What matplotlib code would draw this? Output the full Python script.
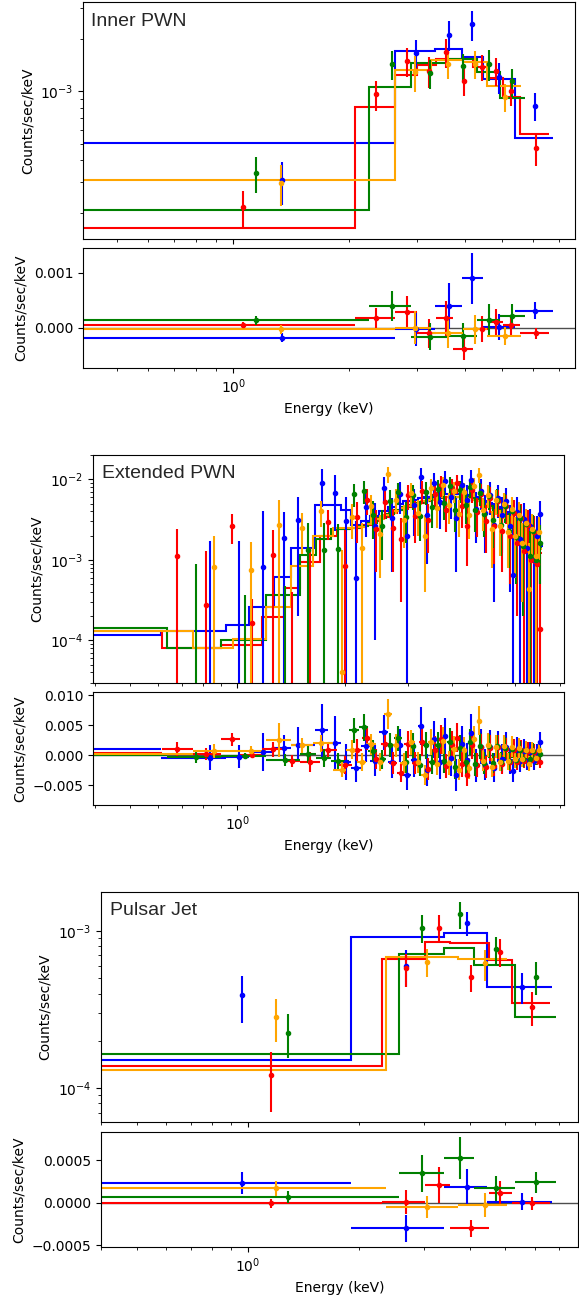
import numpy as np
import matplotlib
matplotlib.use('Agg')
import matplotlib.pyplot as plt

colors = ['blue', 'red', 'green', 'orange']

# ---------------- Inner PWN ----------------
inner_edges = {
    'blue':   [0.3, 2.63, 3.34, 3.92, 4.44, 5.39, 6.78],
    'red':    [0.3, 2.07, 2.63, 3.0, 3.37, 3.73, 4.2, 4.6, 5.02, 5.56, 6.6],
    'green':  [0.3, 2.25, 2.9, 3.58, 4.3, 4.93, 5.73],
    'orange': [0.3, 2.63, 3.27, 3.96, 4.55, 5.58],
}
inner_model = {
    'blue':   [5.04e-4, 1.70e-3, 1.76e-3, 1.58e-3, 1.17e-3, 5.41e-4],
    'red':    [1.64e-4, 8.12e-4, 1.24e-3, 1.41e-3, 1.54e-3, 1.53e-3, 1.38e-3, 1.2e-3, 9.3e-4, 5.7e-4],
    'green':  [2.06e-4, 1.06e-3, 1.46e-3, 1.54e-3, 1.3e-3, 9.2e-4],
    'orange': [3.07e-4, 1.32e-3, 1.51e-3, 1.48e-3, 1.07e-3],
}
inner_x = {
    'blue':   [1.34, 2.99, 3.64, 4.17, 4.91, 6.07],
    'red':    [1.057, 2.35, 2.82, 3.23, 3.57, 3.98, 4.43, 4.8, 5.28, 6.11],
    'green':  [1.147, 2.58, 3.25, 3.96, 4.61, 5.31],
    'orange': [1.33, 2.96, 3.62, 4.24, 5.07],
}
inner_y = {
    'blue':   [3.07e-4, 1.67e-3, 2.12e-3, 2.43e-3, 1.21e-3, 8.27e-4],
    'red':    [2.16e-4, 9.6e-4, 1.49e-3, 1.31e-3, 1.68e-3, 1.14e-3, 1.38e-3, 1.31e-3, 1.0e-3, 4.72e-4],
    'green':  [3.39e-4, 1.43e-3, 1.27e-3, 1.39e-3, 1.44e-3, 1.14e-3],
    'orange': [2.97e-4, 1.29e-3, 1.44e-3, 1.44e-3, 9.28e-4],
}
inner_err = {
    'blue':   [8.5e-5, 3.1e-4, 4.2e-4, 4.7e-4, 2.4e-4, 1.5e-4],
    'red':    [5.2e-5, 1.9e-4, 2.8e-4, 2.6e-4, 3.2e-4, 2.0e-4, 2.4e-4, 2.4e-4, 1.75e-4, 1.0e-4],
    'green':  [8e-5, 2.7e-4, 2.4e-4, 2.4e-4, 2.9e-4, 2.1e-4],
    'orange': [8e-5, 3.0e-4, 2.6e-4, 2.6e-4, 1.7e-4],
}
inner_res = {
    'blue':   [-1.8e-4, -2e-5, 4.0e-4, 8.96e-4, 2e-5, 3.1e-4],
    'red':    [4.7e-5, 1.7e-4, 2.9e-4, -1.0e-4, 1.7e-4, -3.9e-4, -2.5e-5, 1.0e-4, 5e-5, -1.0e-4],
    'green':  [1.4e-4, 4.0e-4, -1.6e-4, -1.5e-4, 1.4e-4, 2.2e-4],
    'orange': [-3e-5, 0.0, -1e-4, -2.5e-5, -1.5e-4],
}

# ---------------- Extended PWN ----------------
# low energy part (wide bins, < ~2 keV)
ext_edges_lo = {
    'blue':   [0.3, 0.61, 0.93, 1.08, 1.27, 1.41, 1.65, 1.80, 1.95],
    'red':    [0.3, 0.613, 0.75, 0.898, 1.02, 1.17, 1.35, 1.50, 1.70, 1.90],
    'green':  [0.3, 0.635, 0.9, 1.2, 1.5, 1.66, 1.83],
    'orange': [0.3, 0.75, 0.97, 1.2, 1.41, 1.63, 1.85],
}
ext_model_lo = {
    'blue':   [1.17e-4, 1.29e-4, 1.56e-4, 2.6e-4, 6.1e-4, 1.4e-3, 4.8e-3, 4.8e-3, 4.2e-3],
    'red':    [1.3e-4, 8.0e-5, 8.0e-5, 8.8e-5, 8.8e-5, 1.93e-4, 4.5e-4, 9.5e-4, 2.0e-3, 2.4e-3],
    'green':  [1.42e-4, 8.0e-5, 1.0e-4, 3.7e-4, 1.15e-3, 1.8e-3, 2.4e-3],
    'orange': [1.3e-4, 8.0e-5, 1.03e-4, 2.6e-4, 8.3e-4, 1.95e-3, 2.47e-3],
}
ext_x_lo = {
    'blue':   [0.37, 0.84, 1.01, 1.18, 1.35, 1.48, 1.73, 1.88, 2.02],
    'red':    [0.36, 0.679, 0.817, 0.965, 1.10, 1.26, 1.42, 1.60, 1.80, 2.0],
    'green':  [0.37, 0.765, 1.05, 1.36, 1.58, 1.75, 1.92],
    'orange': [0.37, 0.862, 1.09, 1.31, 1.52, 1.72, 1.97],
}
ext_y_lo = {
    'blue':   [1.2e-3, -3e-4, -2e-4, 8.1e-4, 1.86e-3, 3.1e-3, 8.9e-3, 6.8e-3, 3.0e-3],
    'red':    [1.0e-3, 1.1e-3, 2.77e-4, 2.64e-3, 1.64e-4, 1.15e-3, -6e-4, -2e-4, 2.98e-3, 8.3e-4],
    'green':  [1.1e-3, -2e-4, -1e-4, -5e-4, 1.33e-3, 1.33e-3, 1.36e-3],
    'orange': [1.1e-3, 8.1e-4, 7.5e-4, 2.72e-3, 2.47e-3, 3.98e-3, 4.1e-5],
}
ext_err_lo = {
    'blue':   [1.2e-3, 2.0e-3, 1.9e-3, 3.2e-3, 2.1e-3, 2.9e-3, 4.4e-3, 4.5e-3, 3.0e-3],
    'red':    [1.0e-3, 1.3e-3, 1.0e-3, 1.05e-3, 1.6e-4, 1.2e-3, 1.0e-3, 1.6e-3, 1.2e-3, 1.5e-3],
    'green':  [1.1e-3, 1.1e-3, 4.7e-4, 9.7e-4, 1.5e-3, 1.5e-3, 1.4e-3],
    'orange': [1.1e-3, 1.15e-3, 9e-4, 2.8e-3, 1.3e-3, 1.4e-3, 1.3e-3],
}
ext_res_lo = {
    'blue':   [9.4e-4, -4e-4, -3e-4, 5e-4, 1.2e-3, 1.7e-3, 4.1e-3, 2.0e-3, -1.2e-3],
    'red':    [3e-4, 9.4e-4, 2e-4, 2.6e-3, 8e-5, 9.6e-4, -1.05e-3, -1.15e-3, 9e-4, -1.6e-3],
    'green':  [1e-4, -2.8e-4, -2e-4, -8e-4, 2e-4, -5e-4, -1.0e-3],
    'orange': [2.5e-4, 6.7e-4, 6.5e-4, 2.5e-3, 1.6e-3, 2.0e-3, -2.4e-3],
}
# high energy part (narrow bins, ~2-7 keV)
ext_edges_hi = {
    'blue':   [2.08, 2.22, 2.36, 2.5, 2.64, 2.78, 2.92, 3.06, 3.2, 3.34,
               3.48, 3.62, 3.76, 3.9, 4.04, 4.18, 4.32, 4.46, 4.6, 4.74,
               4.88, 5.02, 5.16, 5.3, 5.44, 5.58, 5.72, 5.86, 6.0, 6.14,
               6.28, 6.42, 6.56, 6.7, 6.84, 6.98, 7.2],
    'red':    [2.1, 2.24, 2.38, 2.52, 2.66, 2.8, 2.94, 3.08, 3.22, 3.36,
               3.5, 3.64, 3.78, 3.92, 4.06, 4.2, 4.34, 4.48, 4.62, 4.76,
               4.9, 5.04, 5.18, 5.32, 5.46, 5.6, 5.74, 5.88, 6.02, 6.16,
               6.3, 6.44, 6.58, 6.72, 6.86, 7.0, 7.15],
    'green':  [2.05, 2.19, 2.33, 2.47, 2.61, 2.75, 2.89, 3.03, 3.17, 3.31,
               3.45, 3.59, 3.73, 3.87, 4.01, 4.15, 4.29, 4.43, 4.57, 4.71,
               4.85, 4.99, 5.13, 5.27, 5.41, 5.55, 5.69, 5.83, 5.97, 6.11,
               6.25, 6.39, 6.53, 6.67, 6.81, 6.95, 7.15],
    'orange': [2.02, 2.16, 2.3, 2.44, 2.58, 2.72, 2.86, 3.0, 3.14, 3.28,
               3.42, 3.56, 3.7, 3.84, 3.98, 4.12, 4.26, 4.4, 4.54, 4.68,
               4.82, 4.96, 5.1, 5.24, 5.38, 5.52, 5.66, 5.8, 5.94, 6.08,
               6.22, 6.36, 6.5, 6.64, 6.78, 6.92, 7.13],
}
ext_x_hi = {
    'blue':   [2.15, 2.29, 2.43, 2.57, 2.71, 2.85, 2.99, 3.13, 3.27, 3.41,
               3.55, 3.69, 3.83, 3.97, 4.11, 4.25, 4.39, 4.53, 4.67, 4.81,
               4.95, 5.09, 5.23, 5.37, 5.51, 5.65, 5.79, 5.93, 6.07, 6.21,
               6.35, 6.49, 6.63, 6.77, 6.91, 7.06],
    'red':    [2.17, 2.31, 2.45, 2.59, 2.73, 2.87, 3.01, 3.15, 3.29, 3.43,
               3.57, 3.71, 3.85, 3.99, 4.13, 4.27, 4.41, 4.55, 4.69, 4.83,
               4.97, 5.11, 5.25, 5.39, 5.53, 5.67, 5.81, 5.95, 6.09, 6.23,
               6.37, 6.51, 6.65, 6.79, 6.93, 7.07],
    'green':  [2.12, 2.26, 2.4, 2.54, 2.68, 2.82, 2.96, 3.1, 3.24, 3.38,
               3.52, 3.66, 3.8, 3.94, 4.08, 4.22, 4.36, 4.5, 4.64, 4.78,
               4.92, 5.06, 5.2, 5.34, 5.48, 5.62, 5.76, 5.9, 6.04, 6.18,
               6.32, 6.46, 6.6, 6.74, 6.88, 7.04],
    'orange': [2.09, 2.23, 2.37, 2.51, 2.65, 2.79, 2.93, 3.07, 3.21, 3.35,
               3.49, 3.63, 3.77, 3.91, 4.05, 4.19, 4.33, 4.47, 4.61, 4.75,
               4.89, 5.03, 5.17, 5.31, 5.45, 5.59, 5.73, 5.87, 6.01, 6.15,
               6.29, 6.43, 6.57, 6.71, 6.85, 7.0],
}
ext_model_hi = {
    'blue':   [2.7e-3, 3.0e-3, 3.5e-3, 4.0e-3, 4.5e-3, 4.9e-3, 5.3e-3, 5.6e-3, 5.9e-3, 6.1e-3,
               6.3e-3, 6.4e-3, 6.5e-3, 6.6e-3, 6.6e-3, 6.5e-3, 6.4e-3, 6.2e-3, 6.0e-3, 5.7e-3,
               5.4e-3, 5.1e-3, 4.8e-3, 4.5e-3, 4.2e-3, 3.9e-3, 3.6e-3, 3.3e-3, 3.0e-3, 2.8e-3,
               2.5e-3, 2.3e-3, 2.1e-3, 1.9e-3, 1.7e-3, 1.5e-3],
    'red':    [2.5e-3, 2.7e-3, 3.0e-3, 3.4e-3, 3.8e-3, 4.2e-3, 4.5e-3, 4.8e-3, 5.1e-3, 5.4e-3,
               5.7e-3, 5.9e-3, 6.0e-3, 6.1e-3, 6.1e-3, 6.1e-3, 6.0e-3, 5.8e-3, 5.6e-3, 5.3e-3,
               5.0e-3, 4.7e-3, 4.4e-3, 4.1e-3, 3.8e-3, 3.5e-3, 3.2e-3, 2.9e-3, 2.7e-3, 2.4e-3,
               2.2e-3, 2.0e-3, 1.8e-3, 1.6e-3, 1.4e-3, 1.2e-3],
    'green':  [2.5e-3, 2.6e-3, 2.9e-3, 3.3e-3, 3.7e-3, 4.1e-3, 4.5e-3, 4.8e-3, 5.1e-3, 5.4e-3,
               5.7e-3, 5.9e-3, 6.0e-3, 6.1e-3, 6.1e-3, 6.1e-3, 6.0e-3, 5.8e-3, 5.6e-3, 5.3e-3,
               5.0e-3, 4.7e-3, 4.4e-3, 4.1e-3, 3.8e-3, 3.5e-3, 3.2e-3, 2.9e-3, 2.7e-3, 2.4e-3,
               2.2e-3, 2.0e-3, 1.8e-3, 1.6e-3, 1.5e-3, 1.4e-3],
    'orange': [2.5e-3, 2.55e-3, 2.8e-3, 3.2e-3, 3.6e-3, 4.0e-3, 4.4e-3, 4.7e-3, 5.0e-3, 5.3e-3,
               5.6e-3, 5.8e-3, 6.0e-3, 6.1e-3, 6.1e-3, 6.1e-3, 6.0e-3, 5.8e-3, 5.6e-3, 5.3e-3,
               5.0e-3, 4.7e-3, 4.4e-3, 4.1e-3, 3.8e-3, 3.5e-3, 3.2e-3, 2.9e-3, 2.7e-3, 2.4e-3,
               2.2e-3, 2.0e-3, 1.8e-3, 1.6e-3, 1.5e-3, 1.35e-3],
}
ext_y_hi = {
    'blue':   [6.0e-4, 4.5e-3, 2.6e-3, 7.8e-3, 3.3e-3, 6.5e-3, 2.0e-3, 4.8e-3, 1.07e-2, 3.6e-3,
               8.9e-3, 5.2e-3, 9.6e-3, 6.1e-3, 3.3e-3, 8.4e-3, 5.6e-3, 9.9e-3, 4.3e-3, 7.1e-3,
               3.8e-3, 6.4e-3, 2.7e-3, 5.9e-3, 3.6e-3, 5.3e-3, 2.6e-3, 6.5e-4, 3.9e-3, 1.8e-3,
               3.2e-3, 1.4e-3, 2.6e-3, 1.0e-3, 2.0e-3, 3.7e-3],
    'red':    [3.4e-3, 5.6e-3, 2.4e-3, 5.2e-3, 2.5e-3, 1.8e-3, 6.3e-3, 3.5e-3, 7.2e-3, 3.1e-3,
               6.6e-3, 8.5e-3, 4.2e-3, 7.8e-3, 9.0e-3, 4.6e-3, 2.64e-3, 7.4e-3, 3.9e-3, 6.6e-3,
               3.0e-3, 5.9e-3, 2.6e-3, 5.4e-3, 2.3e-3, 4.6e-3, 2.0e-3, 3.8e-3, 1.6e-3, 3.3e-3,
               1.3e-3, 2.7e-3, 1.0e-3, 2.2e-3, 9.0e-4, 1.4e-4],
    'green':  [6.6e-3, 7.2e-3, 3.6e-3, 2.6e-3, 5.4e-3, 6.9e-3, 3.4e-3, 6.3e-3, 3.5e-3, 7.0e-3,
               4.5e-3, 7.6e-3, 5.1e-3, 8.3e-3, 4.2e-3, 7.3e-3, 4.8e-3, 8.0e-3, 4.1e-3, 6.8e-3,
               3.7e-3, 6.2e-3, 3.1e-3, 5.6e-3, 2.7e-3, 4.7e-3, 2.3e-3, 4.0e-3, 1.9e-3, 3.3e-3,
               1.5e-3, 2.8e-3, 1.1e-3, 2.3e-3, 1.0e-3, 1.6e-3],
    'orange': [3.4e-3, 1.4e-3, 4.6e-3, 2.1e-3, 1.15e-2, 5.6e-3, 3.1e-3, 6.8e-3, 3.8e-3, 2.0e-3,
               7.8e-3, 4.4e-3, 8.4e-3, 4.8e-3, 7.2e-3, 3.7e-3, 6.9e-3, 3.6e-3, 8.2e-3, 1.13e-2,
               4.1e-3, 6.4e-3, 2.4e-3, 5.5e-3, 2.6e-3, 5.0e-3, 2.2e-3, 4.3e-3, 2.0e-3, 3.6e-3,
               1.6e-3, 2.9e-3, 4.3e-4, 2.4e-3, 1.1e-3, 2.2e-3],
}
ext_err_hi = {
    'blue':   [2.4e-3, 2.6e-3, 2.5e-3, 2.9e-3, 2.6e-3, 2.8e-3, 2.5e-3, 2.8e-3, 3.2e-3, 2.7e-3,
               3.0e-3, 2.8e-3, 3.1e-3, 2.9e-3, 2.6e-3, 3.0e-3, 2.8e-3, 3.1e-3, 2.7e-3, 2.9e-3,
               2.6e-3, 2.8e-3, 2.4e-3, 2.6e-3, 2.4e-3, 2.4e-3, 2.2e-3, 1.9e-3, 2.1e-3, 1.8e-3,
               1.9e-3, 1.6e-3, 1.7e-3, 1.5e-3, 1.5e-3, 1.6e-3],
    'red':    [1.8e-3, 2.0e-3, 1.7e-3, 2.0e-3, 1.8e-3, 1.5e-3, 2.2e-3, 1.9e-3, 2.3e-3, 1.9e-3,
               2.2e-3, 2.4e-3, 2.0e-3, 2.3e-3, 2.4e-3, 2.1e-3, 1.8e-3, 2.3e-3, 2.0e-3, 2.2e-3,
               1.8e-3, 2.1e-3, 1.7e-3, 2.0e-3, 1.6e-3, 1.8e-3, 1.5e-3, 1.7e-3, 1.4e-3, 1.6e-3,
               1.3e-3, 1.5e-3, 1.2e-3, 1.3e-3, 1.1e-3, 1.0e-3],
    'green':  [2.1e-3, 2.2e-3, 1.8e-3, 1.6e-3, 2.0e-3, 2.1e-3, 1.8e-3, 2.1e-3, 1.8e-3, 2.2e-3,
               2.0e-3, 2.2e-3, 2.0e-3, 2.3e-3, 2.0e-3, 2.2e-3, 2.0e-3, 2.2e-3, 1.9e-3, 2.1e-3,
               1.8e-3, 2.0e-3, 1.7e-3, 1.9e-3, 1.6e-3, 1.8e-3, 1.5e-3, 1.6e-3, 1.4e-3, 1.5e-3,
               1.3e-3, 1.4e-3, 1.2e-3, 1.3e-3, 1.1e-3, 1.1e-3],
    'orange': [1.6e-3, 1.5e-3, 1.7e-3, 1.5e-3, 2.5e-3, 1.9e-3, 1.7e-3, 2.1e-3, 1.8e-3, 1.6e-3,
               2.2e-3, 1.9e-3, 2.2e-3, 2.0e-3, 2.1e-3, 1.8e-3, 2.1e-3, 1.8e-3, 2.2e-3, 2.4e-3,
               1.8e-3, 2.0e-3, 1.6e-3, 1.9e-3, 1.5e-3, 1.8e-3, 1.4e-3, 1.7e-3, 1.4e-3, 1.6e-3,
               1.3e-3, 1.4e-3, 1.2e-3, 1.3e-3, 1.1e-3, 1.2e-3],
}
ext_res_hi = {
    'blue':   [-2.1e-3, 1.5e-3, -9e-4, 3.8e-3, -1.2e-3, 1.6e-3, -3.3e-3, -8e-4, 4.8e-3, -2.5e-3,
               2.6e-3, -1.2e-3, 3.1e-3, -5e-4, -3.3e-3, 1.9e-3, -8e-4, 3.7e-3, -1.7e-3, 1.4e-3,
               -1.6e-3, 1.3e-3, -2.1e-3, 1.4e-3, -6e-4, 1.4e-3, -1.0e-3, -2.6e-3, 9e-4, -1.0e-3,
               7e-4, -9e-4, 5e-4, -9e-4, 3e-4, 2.2e-3],
    'red':    [9e-4, 2.9e-3, -6e-4, 1.8e-3, -1.3e-3, -3.0e-3, 1.8e-3, -1.3e-3, 2.1e-3, -2.3e-3,
               9e-4, 2.6e-3, -1.8e-3, 1.7e-3, 2.9e-3, -1.5e-3, -3.3e-3, 1.6e-3, -1.7e-3, 1.3e-3,
               -2.0e-3, 1.2e-3, -1.8e-3, 1.3e-3, -1.5e-3, 1.1e-3, -1.2e-3, 9e-4, -1.1e-3, 9e-4,
               -9e-4, 7e-4, -8e-4, 6e-4, -5e-4, -1.1e-3],
    'green':  [4.1e-3, 4.6e-3, 7e-4, -7e-4, 1.7e-3, 2.8e-3, -1.1e-3, 1.5e-3, -1.6e-3, 1.6e-3,
               -1.2e-3, 1.7e-3, -9e-4, 2.2e-3, -1.9e-3, 1.2e-3, -1.2e-3, 2.2e-3, -1.5e-3, 1.5e-3,
               -1.3e-3, 1.5e-3, -1.3e-3, 1.5e-3, -1.1e-3, 1.2e-3, -9e-4, 1.1e-3, -8e-4, 9e-4,
               -7e-4, 8e-4, -7e-4, 7e-4, -5e-4, 2e-4],
    'orange': [9e-4, -1.2e-3, 1.8e-3, -1.1e-3, 6.9e-3, 1.6e-3, -1.3e-3, 2.1e-3, -1.2e-3, -3.3e-3,
               2.2e-3, -1.4e-3, 2.4e-3, -1.3e-3, 1.1e-3, -2.4e-3, 9e-4, -2.2e-3, 2.6e-3, 5.7e-3,
               -9e-4, 1.7e-3, -2.0e-3, 1.4e-3, -1.2e-3, 1.5e-3, -1.0e-3, 1.4e-3, -7e-4, 1.2e-3,
               -6e-4, 9e-4, -1.4e-3, 8e-4, -4e-4, 8e-4],
}

# ---------------- Pulsar Jet ----------------
jet_edges = {
    'blue':   [0.3, 1.91, 3.40, 4.46, 6.67],
    'red':    [0.3, 2.31, 3.02, 3.54, 4.5, 5.22, 6.6],
    'green':  [0.3, 2.58, 3.40, 4.11, 5.3, 6.86],
    'orange': [0.3, 2.37, 3.73, 5.06],
}
jet_model = {
    'blue':   [1.51e-4, 9.1e-4, 9.67e-4, 4.42e-4],
    'red':    [1.38e-4, 6.64e-4, 8.55e-4, 8.35e-4, 6.54e-4, 3.5e-4],
    'green':  [1.65e-4, 7.1e-4, 7.75e-4, 6.07e-4, 2.82e-4],
    'orange': [1.30e-4, 6.87e-4, 6.64e-4],
}
jet_x = {
    'blue':   [0.963, 2.68, 3.94, 5.55],
    'red':    [1.16, 2.68, 3.30, 4.04, 4.85, 5.9],
    'green':  [1.29, 2.97, 3.77, 4.72, 6.06],
    'orange': [1.19, 3.06, 4.39],
}
jet_y = {
    'blue':   [3.91e-4, 5.98e-4, 1.13e-3, 4.42e-4],
    'red':    [1.21e-4, 5.78e-4, 1.05e-3, 5.12e-4, 7.38e-4, 3.27e-4],
    'green':  [2.25e-4, 1.05e-3, 1.28e-3, 7.67e-4, 5.12e-4],
    'orange': [2.84e-4, 6.38e-4, 6.22e-4],
}
jet_err = {
    'blue':   [1.3e-4, 1.56e-4, 2.0e-4, 1.0e-4],
    'red':    [5e-5, 1.4e-4, 2.1e-4, 1.0e-4, 1.45e-4, 8e-5],
    'green':  [7e-5, 2.15e-4, 2.5e-4, 1.5e-4, 1.2e-4],
    'orange': [8.6e-5, 1.3e-4, 1.4e-4],
}
jet_res = {
    'blue':   [2.34e-4, -3.0e-4, 1.9e-4, 1e-5],
    'red':    [-8e-6, 1.2e-5, 2.07e-4, -3.0e-4, 1.1e-4, -8e-6],
    'green':  [7e-5, 3.44e-4, 5.27e-4, 1.68e-4, 2.38e-4],
    'orange': [1.68e-4, -4.7e-5, -2.7e-5],
}

# join low/high energy parts of the extended spectrum
ext_edges = {c: ext_edges_lo[c] + ext_edges_hi[c] for c in colors}
ext_model = {c: ext_model_lo[c] + ext_model_hi[c] for c in colors}
ext_x = {c: ext_x_lo[c] + ext_x_hi[c] for c in colors}
ext_y = {c: ext_y_lo[c] + ext_y_hi[c] for c in colors}
ext_err = {c: ext_err_lo[c] + ext_err_hi[c] for c in colors}
ext_res = {c: ext_res_lo[c] + ext_res_hi[c] for c in colors}

W, H = 579, 1295
fig = plt.figure(figsize=(W / 100, H / 100), dpi=100)


def place(left, top, right, bottom):
    return fig.add_axes([left / W, 1 - bottom / H, (right - left) / W, (bottom - top) / H])


def draw(ax, axr, edges, model, xs, ys, errs, res, name, xlim, ylim, rlim, rticks, tx):
    for c in colors:
        e = np.asarray(edges[c])
        x = np.asarray(xs[c])
        ax.stairs(model[c], e, color=c, lw=1.5, baseline=None)
        ax.errorbar(x, ys[c], yerr=errs[c], fmt='o', ms=3, color=c, elinewidth=1.5)
        axr.errorbar(x, res[c], xerr=[x - e[:-1], e[1:] - x], yerr=errs[c],
                     fmt='o', ms=3, color=c, elinewidth=1.5)
    axr.axhline(0, color='0.3', lw=1, zorder=1)
    for a in (ax, axr):
        a.set_xscale('log')
        a.set_xlim(xlim)
    ax.set_yscale('log')
    ax.set_ylim(ylim)
    axr.set_ylim(rlim)
    axr.set_yticks(rticks)
    ax.tick_params(axis='x', which='both', labelbottom=False)
    ax.set_ylabel('Counts/sec/keV')
    axr.set_ylabel('Counts/sec/keV')
    axr.set_xlabel('Energy (keV)')
    ax.text(tx, 0.9, name, transform=ax.transAxes, fontsize=14,
            family='Liberation Sans', va='baseline', color='0.15')


ax1 = place(83, 2, 575, 239)
ax1r = place(83, 248, 575, 368)
draw(ax1, ax1r, inner_edges, inner_model, inner_x, inner_y, inner_err, inner_res,
     'Inner PWN', (0.407, 7.72), (1.41e-4, 3.27e-3), (-0.00073, 0.00145), [0, 0.001], 0.016)

ax2 = place(93, 455, 564, 683)
ax2r = place(93, 692, 564, 805)
draw(ax2, ax2r, ext_edges, ext_model, ext_x, ext_y, ext_err, ext_res,
     'Extended PWN', (0.394, 8.23), (2.96e-5, 2.0e-2), (-0.0083, 0.0105),
     [-0.005, 0, 0.005, 0.010], 0.019)

ax3 = place(101, 892, 578, 1122)
ax3r = place(101, 1132, 578, 1247)
draw(ax3, ax3r, jet_edges, jet_model, jet_x, jet_y, jet_err, jet_res,
     'Pulsar Jet', (0.40, 7.87), (6.1e-5, 1.77e-3), (-0.00052, 0.00083),
     [-0.0005, 0, 0.0005], 0.019)

fig.savefig('out.png', dpi=100)
